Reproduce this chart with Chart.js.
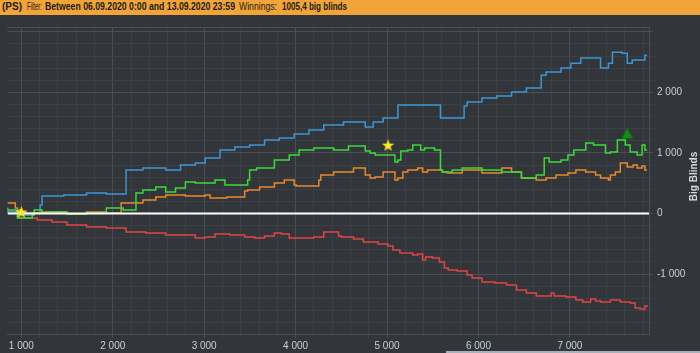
<!DOCTYPE html>
<html>
<head>
<meta charset="utf-8">
<script src="https://cdn.jsdelivr.net/npm/chart.js@4"></script>
<style>
  html, body { margin: 0; padding: 0; background: #323539; }
  #wrap { position: relative; width: 700px; height: 353px; overflow: hidden; }
  #header { position: absolute; left: 0; top: 0; width: 700px; height: 15px; background: #f0a43a; z-index: 2;
    font-family: "Liberation Sans", Arial, sans-serif; font-size: 10px; color: #221c14; }
  #header span { position: absolute; top: 1px; white-space: nowrap; transform-origin: left center; }
  #header .b { font-weight: bold; }
  #scroll { position: absolute; left: 446px; top: 351px; width: 254px; height: 2px; background: #a7b1ba; }
</style>
</head>
<body>
<div id="wrap">
  <div id="header">
    <span class="b" data-w="20" style="left:2px">(PS)</span>
    <span data-w="15" style="left:27px">Filter:</span>
    <span class="b" data-w="190" style="left:45px">Between 06.09.2020 0:00 and 13.09.2020 23:59</span>
    <span data-w="38" style="left:239px">Winnings:</span>
    <span class="b" data-w="65" style="left:282px">1005,4 big blinds</span>
  </div>
  <canvas id="myChart" width="700" height="353"></canvas>
  <div id="scroll"></div>
</div>
<script>
const ctx = document.getElementById("myChart").getContext("2d");

// hands played / big blinds won
const blueHands = [849, 1011, 1119, 1206, 1227, 1465, 1714, 1930, 2146, 2330, 2579, 2741, 2903, 3011, 3173, 3335, 3497, 3660, 3822, 3984, 4146, 4308, 4524, 4762, 4849, 4957, 5119, 5227, 5389, 5584, 5605, 5843, 5876, 6038, 6200, 6362, 6524, 6686, 6740, 6903, 7011, 7119, 7281, 7335, 7421, 7465, 7573, 7627, 7681, 7821, 7843];
const blueBB = [91, 25, -25, 8, 140, 289, 305, 338, 322, 718, 751, 718, 800, 833, 916, 1048, 1097, 1130, 1213, 1246, 1312, 1378, 1460, 1510, 1427, 1510, 1576, 1790, 1790, 1790, 1576, 1576, 1774, 1840, 1906, 1939, 2005, 2071, 2285, 2335, 2401, 2483, 2566, 2566, 2401, 2483, 2665, 2648, 2483, 2533, 2615];

const greenHands = [849, 957, 979, 1119, 1141, 1227, 1281, 1498, 1714, 1930, 2114, 2254, 2330, 2471, 2579, 2687, 2795, 2903, 3011, 3119, 3227, 3249, 3476, 3497, 3573, 3768, 3930, 4038, 4200, 4416, 4578, 4762, 4816, 4870, 4957, 5087, 5119, 5151, 5227, 5281, 5368, 5411, 5519, 5584, 5605, 5714, 5822, 6038, 6254, 6470, 6632, 6719, 6773, 6903, 6978, 7043, 7173, 7259, 7389, 7443, 7519, 7606, 7659, 7735, 7789, 7821, 7843];
const greenBB = [91, 58, -74, -74, -25, 58, 8, 25, -8, 8, 91, 58, 338, 388, 437, 355, 421, 520, 503, 503, 553, 470, 470, 553, 718, 751, 883, 965, 1048, 1081, 1048, 1114, 1031, 998, 965, 965, 850, 883, 1031, 1048, 1130, 1048, 1081, 1048, 718, 685, 718, 751, 718, 685, 586, 635, 916, 850, 883, 965, 1048, 1163, 1130, 998, 1015, 1213, 1130, 1015, 965, 1130, 1048];

const orangeHands = [849, 935, 957, 1011, 1227, 1498, 1714, 1930, 2092, 2330, 2471, 2579, 2795, 3011, 3065, 3249, 3443, 3476, 3606, 3768, 3876, 3984, 4006, 4254, 4276, 4416, 4524, 4633, 4762, 4816, 4870, 4957, 5087, 5119, 5173, 5227, 5335, 5389, 5443, 5605, 5659, 5822, 5930, 6038, 6254, 6362, 6470, 6632, 6740, 6849, 6978, 7065, 7173, 7281, 7335, 7421, 7443, 7497, 7551, 7627, 7692, 7735, 7789, 7821, 7843];
const orangeBB = [173, 173, 91, 58, 8, 25, -8, 25, 8, 173, 223, 272, 305, 289, 305, 256, 272, 371, 388, 437, 503, 553, 470, 454, 553, 635, 685, 685, 751, 635, 586, 602, 685, 553, 586, 685, 718, 751, 685, 718, 685, 668, 718, 718, 668, 751, 685, 586, 553, 586, 635, 668, 718, 685, 635, 586, 553, 635, 685, 833, 767, 800, 751, 784, 718];

const redHands = [849, 957, 979, 1173, 1335, 1498, 1714, 1930, 2146, 2362, 2579, 2687, 2903, 3011, 3119, 3281, 3443, 3552, 3660, 3768, 3843, 3930, 4038, 4200, 4308, 4330, 4470, 4503, 4633, 4741, 4903, 5011, 5065, 5141, 5281, 5335, 5389, 5422, 5497, 5573, 5627, 5670, 5768, 5876, 5930, 6038, 6178, 6308, 6416, 6524, 6632, 6740, 6795, 6827, 6957, 7065, 7140, 7227, 7281, 7335, 7443, 7551, 7659, 7713, 7767, 7821, 7854];
const redBB = [107, 25, -41, -74, -107, -140, -190, -223, -239, -305, -322, -355, -355, -404, -388, -338, -355, -388, -404, -371, -322, -338, -404, -404, -388, -305, -305, -371, -388, -421, -470, -503, -536, -602, -652, -685, -668, -767, -718, -734, -800, -899, -932, -949, -1015, -1064, -1130, -1147, -1180, -1262, -1312, -1361, -1361, -1312, -1361, -1378, -1427, -1460, -1411, -1444, -1460, -1427, -1460, -1477, -1559, -1576, -1526];

const starHands = [1000, 5011];
const starBB = [25, 1130];
const peakHands = [7627];
const peakBB = [1295];

const xMajorTicks = [1000, 2000, 3000, 4000, 5000, 6000, 7000];
const yMajorTicks = [-1000, 0, 1000, 2000];

const xMin = 849, xMax = 7865, yMin = -1990, yMax = 3080;
const gridMinor = "#3c4044";
const gridMajor = "#4b4f54";
const labelColor = "#c9d0d8";
const tickFont = { family: "'Liberation Sans', Arial, sans-serif", size: 10 };

// squeeze the header texts to the widths they have in the picture
document.querySelectorAll("#header span").forEach((s) => {
  const w = s.getBoundingClientRect().width;
  s.style.transform = `scaleX(${Number(s.dataset.w) / w})`;
});

function pairs(xs, ys) {
  return xs.map((x, i) => ({ x: x, y: ys[i] }));
}
function fmt(v) {
  const s = Math.abs(v).toString().replace(/\B(?=(\d{3})+(?!\d))/g, " ");
  return (v < 0 ? "-" : "") + s;
}
function minorTicks(min, max) {
  let arr = [];
  for (let v = Math.ceil(min / 200) * 200; v <= max; v += 200) arr.push({ value: v });
  return arr;
}
function starImg(size, color) {
  const c = document.createElement("canvas");
  c.width = size;
  c.height = size;
  const g = c.getContext("2d");
  g.fillStyle = color;
  g.beginPath();
  for (let i = 0; i < 10; i++) {
    const r = i % 2 ? size * 0.2 : size * 0.5;
    const a = -Math.PI / 2 + (i * Math.PI) / 5;
    g.lineTo(size / 2 + r * Math.cos(a), size / 2 + 0.6 + r * Math.sin(a));
  }
  g.closePath();
  g.fill();
  return c;
}

const framePlugin = {
  id: "frame",
  beforeDraw(chart) {
    const c = chart.ctx;
    c.save();
    c.fillStyle = "#323539";
    c.fillRect(0, 0, chart.width, chart.height);
    c.restore();
  },
  beforeDatasetsDraw(chart) {
    const c = chart.ctx;
    const a = chart.chartArea;
    c.save();
    c.strokeStyle = gridMajor;
    c.lineWidth = 1;
    c.beginPath();
    c.moveTo(a.left, a.top + 0.5);
    c.lineTo(a.right, a.top + 0.5);
    c.stroke();
    c.restore();
  },
  afterDraw(chart) {
    const c = chart.ctx;
    const a = chart.chartArea;
    c.save();
    c.translate(694, (a.top + a.bottom) / 2 - 4);
    c.rotate(-Math.PI / 2);
    c.fillStyle = "#d6dce2";
    c.font = "bold 10px 'Liberation Sans', Arial, sans-serif";
    c.textAlign = "center";
    c.textBaseline = "middle";
    c.fillText("Big Blinds", 0, 0);
    c.restore();
  },
};

function lineSet(data, color) {
  return {
    data: data,
    borderColor: color,
    borderWidth: 1.5,
    pointRadius: 0,
    stepped: "after",
    fill: false,
  };
}

const myChart = new Chart(ctx, {
  type: "line",
  plugins: [framePlugin],
  data: {
    datasets: [
      {
        data: pairs(starHands, starBB),
        showLine: false,
        pointStyle: starImg(13, "#f6ea2c"),
        pointRadius: 6,
      },
      {
        data: pairs(peakHands, peakBB),
        showLine: false,
        pointStyle: "triangle",
        pointRadius: 6.5,
        backgroundColor: "#16871a",
        borderColor: "#0f6d12",
        borderWidth: 1,
      },
      {
        data: [{ x: xMin, y: 0 }, { x: xMax, y: 0 }],
        borderColor: "#ffffff",
        borderWidth: 2.2,
        pointRadius: 0,
      },
      lineSet(pairs(greenHands, greenBB), "#3bd93b"),
      lineSet(pairs(orangeHands, orangeBB), "#e8892c"),
      lineSet(pairs(blueHands, blueBB), "#3e95d6"),
      lineSet(pairs(redHands, redBB), "#e04646"),
    ],
  },
  options: {
    responsive: false,
    animation: false,
    layout: { padding: { top: 27, left: 0, right: 0, bottom: 0 } },
    plugins: { legend: { display: false }, tooltip: { enabled: false } },
    scales: {
      x: {
        type: "linear",
        min: xMin,
        max: xMax,
        afterBuildTicks: (axis) => {
          axis.ticks = minorTicks(xMin, xMax);
        },
        afterFit: (axis) => {
          axis.height = 19;
        },
        ticks: {
          autoSkip: false,
          maxRotation: 0,
          color: labelColor,
          padding: 2,
          font: tickFont,
          callback: (v) => (xMajorTicks.includes(v) ? fmt(v) : ""),
        },
        grid: {
          color: (c) => (c.tick && xMajorTicks.includes(c.tick.value) ? gridMajor : gridMinor),
          tickLength: 4,
        },
        border: { display: true, color: gridMajor },
      },
      y: {
        position: "right",
        min: yMin,
        max: yMax,
        afterBuildTicks: (axis) => {
          axis.ticks = minorTicks(yMin, yMax);
        },
        afterFit: (axis) => {
          axis.width = 51;
        },
        ticks: {
          autoSkip: false,
          color: labelColor,
          padding: 4,
          font: tickFont,
          callback: (v) => (yMajorTicks.includes(v) ? fmt(v) : ""),
        },
        grid: {
          color: (c) => (c.tick && c.tick.value % 1000 === 0 ? gridMajor : gridMinor),
          tickLength: 4,
        },
        border: { display: true, color: gridMajor },
      },
    },
  },
});
</script>
</body>
</html>
